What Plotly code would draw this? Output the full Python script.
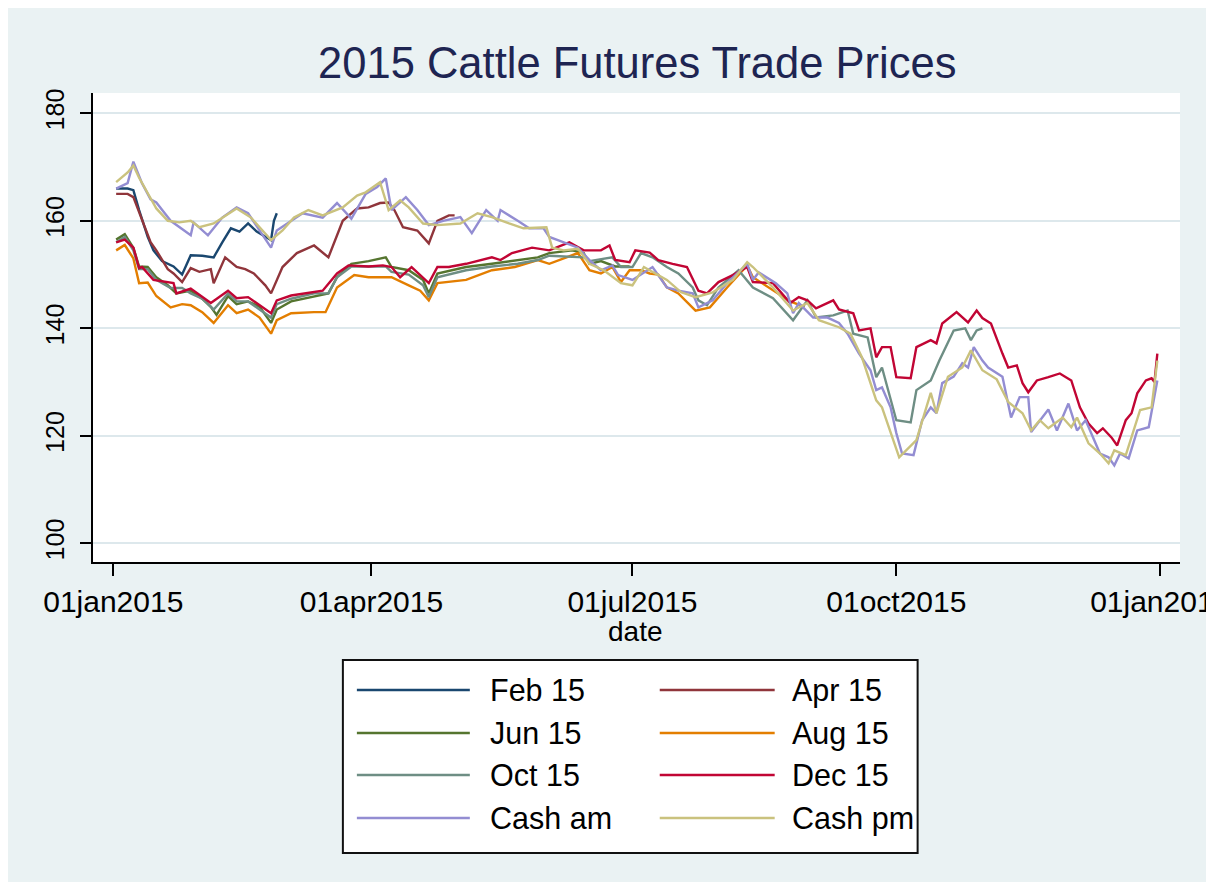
import plotly.graph_objects as go
import pandas as pd

# ---------------- data (days since 01jan2015, price) ----------------
FEB15_DAYS = [1, 5, 7, 9, 12, 14, 17, 21, 24, 27, 31, 35, 38, 41, 44, 47, 50, 53, 55, 56, 57]
FEB15_VALS = [166, 166, 165.7, 162, 157, 154.5, 152.5, 151.5, 150, 153.6, 153.5, 153.2, 156, 158.6,
              158, 159.5, 158, 157, 156.4, 160, 161.4]

APR15_DAYS = [1, 5, 7, 10, 13, 15, 19, 21, 24, 27, 30, 34, 35, 39, 43, 46, 49, 53, 55, 59, 64, 70, 75,
              80, 85, 89, 93, 96, 98, 101, 106, 110, 113, 117, 119]
APR15_VALS = [165, 165, 164.4, 160, 156, 154.5, 151, 150.2, 148.6, 151.2, 150.5, 151, 148.4, 153.2,
              151.4, 151, 150.2, 148, 146.5, 151.4, 154, 155.4, 153.2, 160, 162.3, 162.5, 163.3, 163.4,
              162, 158.8, 158.2, 155.8, 160, 161, 161]

JUN15_DAYS = [1, 4, 7, 9, 12, 15, 19, 22, 27, 31, 34, 36, 40, 43, 47, 51, 55, 57, 62, 70, 75, 78, 83,
              89, 95, 97, 103, 108, 110, 113, 123, 132, 141, 148, 152, 160, 164, 166, 170, 175, 180]
JUN15_VALS = [156.5, 157.5, 155, 151.5, 151.4, 149.5, 148, 146.5, 147, 145.5, 144, 142.5, 146, 144.5,
              145, 144, 141, 143.5, 145, 146, 146.5, 149.5, 152, 152.5, 153.2, 151.4, 150.8, 149, 146.5,
              150.2, 151.4, 152, 152.7, 153.2, 154, 154.5, 154, 152, 152.5, 151.5, 151.5]

AUG15_DAYS = [1, 4, 7, 9, 12, 15, 20, 24, 27, 31, 35, 40, 43, 47, 51, 55, 57, 62, 70, 74, 78, 84, 89,
              94, 97, 103, 107, 110, 113, 123, 132, 140, 148, 152, 162, 166, 170, 174, 177, 180, 184,
              187, 190, 193, 197, 203, 208, 214, 221, 223, 230, 236, 241]
AUG15_VALS = [154.5, 155.5, 153, 148.4, 148.5, 146, 143.9, 144.5, 144.3, 143, 141, 144.3, 142.8, 143.5,
              142, 139, 141.5, 142.8, 143, 143, 147.6, 149.9, 149.5, 149.5, 149.5, 148, 147, 145.2,
              148.4, 149, 150.8, 151.4, 152.7, 152, 154, 150.8, 150.2, 151.4, 148.6, 150.8, 150.8,
              150.2, 150, 147.6, 146.5, 143.3, 143.9, 147.6, 151.7, 149.5, 147, 145, 144]

OCT15_DAYS = [1, 4, 7, 9, 12, 15, 20, 24, 27, 31, 35, 40, 43, 47, 51, 55, 57, 62, 70, 75, 78, 83, 89,
              95, 97, 103, 108, 110, 113, 123, 132, 141, 148, 152, 164, 166, 174, 177, 181, 184, 188,
              193, 197, 202, 204, 207, 211, 218, 223, 230, 237, 242, 245, 251, 256, 258, 263, 266,
              268, 273, 278, 280, 285, 288, 293, 297, 299, 301, 303]
OCT15_VALS = [156, 157, 154.5, 151, 151, 149, 147.5, 147.5, 146.5, 145.5, 143.5, 146.5, 145, 145,
              143.5, 142, 144.5, 145.5, 146.5, 146.5, 149.5, 151.5, 151.5, 151.5, 150.5, 150, 148,
              145.8, 149.5, 150.8, 151.5, 152, 152.7, 153.5, 153.2, 152.5, 153.2, 151.4, 151.4, 154,
              153.2, 151.4, 150.2, 147.6, 145.2, 144.3, 147.6, 150.8, 147.6, 145.6, 141.5, 145.2, 142,
              142.4, 143.3, 139, 138.3, 130.9, 132.7, 122.9, 122.5, 128.5, 130.3, 134, 139.6, 140,
              137.8, 139.6, 140]

DEC15_DAYS = [1, 4, 7, 9, 10, 14, 21, 22, 27, 34, 40, 43, 47, 55, 57, 62, 73, 78, 82, 89,
              94, 97, 100, 104, 110, 113, 117, 123, 132, 135, 139, 146, 152, 159, 164, 170, 173, 175,
              180, 182, 187, 190, 195, 200, 204, 207, 211, 216, 221, 223, 230, 236, 239, 242, 245,
              251, 253, 256, 258, 260, 264, 266, 268, 271, 273, 278, 279, 280, 285, 287, 289, 294,
              298, 301, 303, 306, 310, 312, 315, 317, 319, 322, 326, 330, 334, 337, 340, 343, 345,
              348, 350, 353, 355, 357, 360, 362, 363, 364]
DEC15_VALS = [156, 156.5, 155, 151.2, 151.4, 149, 148.4, 146.5, 147.4, 144.7, 147, 145.6, 145.8,
              142.8, 145.2, 146.1, 147, 150.2, 151.7, 151.5, 151.7, 151.4, 149.5, 151.4, 148.4, 151.4,
              151.4, 152, 153.2, 152.7, 154, 155, 154.5, 156, 154.5, 154.5, 155.4, 152.7, 152.3,
              154.5, 154.1, 152.7, 152, 151.4, 147, 146.5, 148.6, 149.9, 151.4, 148.6, 148.4, 144.7,
              145.8, 145.2, 143.7, 145.2, 143.5, 143, 142.8, 139.6, 140, 134.6, 136.5, 136.5, 130.9,
              130.7, 133.5, 136.5, 137.8, 137.2, 140.9, 143, 141.1, 143.3, 141.9, 140.9, 135.3, 132.7,
              133.1, 129.8, 128.1, 130.3, 130.9, 131.6, 130.3, 125.3, 122.3, 120.5, 121.4, 119.7,
              118.2, 122.9, 124.2, 127.9, 130.3, 130.7, 130, 135.3]

CASHAM_DAYS = [1, 5, 7, 10, 13, 15, 20, 27, 28, 33, 38, 43, 47, 55, 57, 62, 66, 73, 78, 83,
               88, 92, 95, 97, 102, 106, 110, 115, 121, 125, 130, 134, 135, 141, 145, 150, 152, 155,
               162, 166, 170, 174, 176, 181, 188, 193, 197, 202, 204, 209, 214, 221, 223, 225, 231,
               235, 237, 239, 244, 249, 253, 256, 260, 264, 266, 268, 271, 273, 275, 279, 282, 285,
               287, 289, 293, 296, 298, 300, 303, 305, 310, 313, 316, 319, 320, 326, 329, 333, 336,
               339, 344, 347, 349, 351, 354, 357, 361, 364]
CASHAM_VALS = [166, 167, 171, 167, 164, 163.4, 160, 157.3, 159.7, 157.3, 160.6, 162.5, 161.4, 155,
               158.2, 160, 161.4, 160.6, 163.3, 160.4, 165, 166.3, 167.9, 162, 164.4, 162, 159.2, 160,
               160.7, 157.7, 162, 160, 162, 160, 158.6, 158.6, 157, 156.4, 155, 152.7, 150.8, 151.7,
               149.9, 149, 151.4, 147.6, 147, 146.5, 143.9, 145.2, 148.4, 152, 149, 150.4, 148.4,
               146.5, 142.8, 144.7, 142, 142, 141, 139, 135.3, 132.2, 128.5, 129, 125.3, 120.5, 116.7,
               116.4, 122.9, 125.3, 124.2, 129.8, 131, 133.5, 132.7, 136.5, 134, 132.7, 131, 123.4,
               127.2, 127.2, 120.7, 124.9, 121, 126, 121, 122.9, 116.7, 116, 114.5, 116.7, 115.8, 121,
               121.6, 130.3]

CASHPM_DAYS = [1, 5, 7, 9, 13, 15, 19, 23, 27, 30, 35, 43, 48, 55, 59, 63, 68, 73, 80, 85,
               88, 93, 96, 100, 103, 108, 113, 121, 127, 132, 138, 143, 151, 153, 157, 162, 166, 171,
               177, 181, 185, 193, 198, 203, 209, 216, 221, 223, 230, 237, 242, 246, 253, 257, 261,
               266, 268, 274, 280, 285, 287, 291, 296, 299, 303, 308, 312, 317, 320, 323, 326, 331,
               334, 336, 340, 344, 347, 349, 353, 358, 362, 364]
CASHPM_VALS = [167.2, 169, 170.3, 168, 164.2, 162.3, 160, 159.7, 160, 158.8, 159.5, 162.3, 160.6,
               156.4, 158.2, 160.6, 162, 161, 162.5, 164.7, 165.3, 167.2, 162, 163.8, 162.5, 159.5,
               159.2, 159.5, 161.4, 160.7, 159.5, 158.6, 158.8, 155, 154.5, 154.8, 152, 150.8, 148.4,
               148, 151.4, 149, 146.7, 145.8, 146.7, 149, 152.3, 151.4, 147.6, 143.3, 144.7, 141.5,
               140.2, 139, 134.6, 126.6, 125.3, 116, 119.2, 128, 124.2, 131, 132.7, 135.9, 132.2,
               130.5, 126.3, 124.2, 121, 122.9, 121.4, 123.4, 121.6, 123.4, 118.6, 116.7, 114.9, 117.3,
               116.4, 124.8, 125.3, 134]

SERIES_NAMES = ["Feb 15", "Apr 15", "Jun 15", "Aug 15", "Oct 15", "Dec 15", "Cash am", "Cash pm"]
SERIES_DAYS = [FEB15_DAYS, APR15_DAYS, JUN15_DAYS, AUG15_DAYS, OCT15_DAYS, DEC15_DAYS,
               CASHAM_DAYS, CASHPM_DAYS]
SERIES_VALS = [FEB15_VALS, APR15_VALS, JUN15_VALS, AUG15_VALS, OCT15_VALS, DEC15_VALS,
               CASHAM_VALS, CASHPM_VALS]
SERIES_COLORS = ["#1A476F", "#90353B", "#55752F", "#E37E00", "#6E8E84", "#C10534",
                 "#938DD2", "#CAC27E"]

XTICK_DAYS = [0, 90, 181, 273, 365]
XTICK_TEXT = ["01jan2015", "01apr2015", "01jul2015", "01oct2015", "01jan2016"]
YTICKS = [100, 120, 140, 160, 180]

TITLE = "2015 Cattle Futures Trade Prices"
XTITLE = "date"

# ---------------- layout geometry (page pixels; page has an 8px body margin) ----------------
OFF = 8
W, H = 1214, 882
L, R, T, B = 93, 1180.5, 93, 562          # plot area edges on the page
X0_PIX, X365_PIX = 113.3, 1160.7           # page x of 01jan2015 / 01jan2016
Y180_PIX, Y100_PIX = 113.3, 543.3          # page y of 180 / 100
BASE = pd.Timestamp("2015-01-01")


def to_dates(days):
    return [BASE + pd.Timedelta(days=d) for d in days]


def px(x):
    return (x - L) / (R - L)


def py(y):
    return (B - y) / (B - T)


FONT = "Liberation Sans, Arial, Helvetica, sans-serif"

fig = go.Figure()
for name, d, v, c in zip(SERIES_NAMES, SERIES_DAYS, SERIES_VALS, SERIES_COLORS):
    fig.add_trace(go.Scatter(x=to_dates(d), y=v, mode="lines", name=name,
                             line=dict(color=c, width=2.4), showlegend=False))

shapes = [
    dict(type="rect", xref="paper", yref="paper", x0=px(343), x1=px(918), y0=py(853), y1=py(660),
         fillcolor="white", line=dict(color="#111111", width=2), layer="above"),
]
annotations = [
    dict(text=XTITLE, xref="paper", yref="paper", x=px(636), y=py(631), showarrow=False,
         xanchor="center", yanchor="middle", font=dict(size=28, color="black", family=FONT)),
]

row_y = [690, 733, 775, 818]
col_line = [(357, 470), (660, 775)]
col_text = [488, 790]
for i, (name, c) in enumerate(zip(SERIES_NAMES, SERIES_COLORS)):
    r, k = divmod(i, 2)
    yy = py(row_y[r])
    shapes.append(dict(type="line", xref="paper", yref="paper", x0=px(col_line[k][0]),
                       x1=px(col_line[k][1]), y0=yy, y1=yy, line=dict(color=c, width=2.5)))
    annotations.append(dict(text=name, xref="paper", yref="paper", x=px(col_text[k]), y=yy,
                            showarrow=False, xanchor="left", yanchor="middle",
                            font=dict(size=30.5, color="black", family=FONT)))

ppd = (X365_PIX - X0_PIX) / 365.0
x_lo = BASE + pd.Timedelta(days=(L - X0_PIX) / ppd)
x_hi = BASE + pd.Timedelta(days=365 + (R - X365_PIX) / ppd)
ppu = (Y100_PIX - Y180_PIX) / 80.0
y_hi = 180 + (Y180_PIX - T) / ppu
y_lo = 100 - (B - Y100_PIX) / ppu

fig.update_layout(
    width=W, height=H, autosize=False,
    margin=dict(l=L - OFF, r=W - (R - OFF), t=T - OFF, b=H - (B - OFF), pad=0, autoexpand=False),
    paper_bgcolor="#EAF2F3", plot_bgcolor="white",
    font=dict(family=FONT, color="black"),
    title=dict(text=TITLE, x=px(637.5), xanchor="center", xref="paper",
               y=1 - (63.5 - OFF - 1) / H, yref="container", yanchor="middle",
               font=dict(size=43.5, color="#1E2552", family=FONT)),
    xaxis=dict(type="date", range=[x_lo, x_hi], tickvals=to_dates(XTICK_DAYS),
               ticktext=XTICK_TEXT, ticks="outside", ticklen=12, tickwidth=1.5,
               tickcolor="black", showline=True, linecolor="black", linewidth=1.5,
               showgrid=False, zeroline=False, ticklabeloverflow="allow", automargin=False,
               tickfont=dict(size=30, family=FONT)),
    yaxis=dict(range=[y_lo, y_hi], tickvals=YTICKS, ticks="outside", ticklen=11, tickwidth=1.5,
               tickcolor="black", tickangle=-90, showline=True, linecolor="black", linewidth=1.5,
               showgrid=True, gridcolor="#DDE8EC", gridwidth=1.5, zeroline=False,
               automargin=False, ticklabelstandoff=6, tickfont=dict(size=25, family=FONT)),
    shapes=shapes, annotations=annotations,
)

fig.write_html("out.html")
